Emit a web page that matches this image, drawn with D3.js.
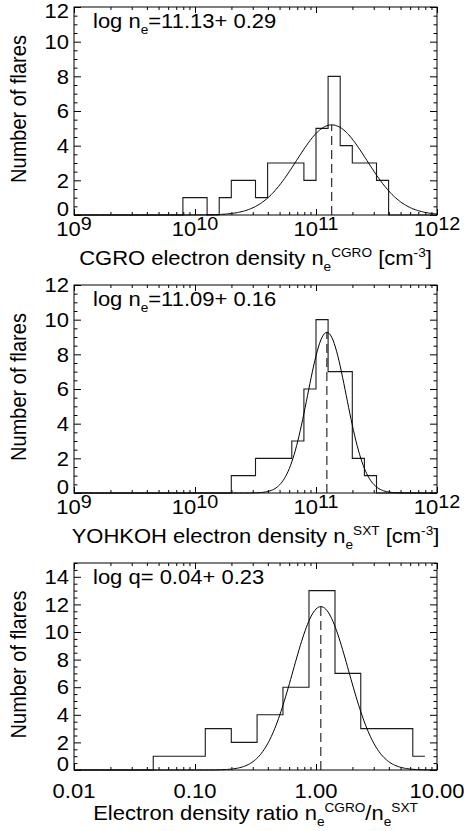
<!DOCTYPE html>
<html><head><meta charset="utf-8">
<script src="https://cdn.jsdelivr.net/npm/d3@7/dist/d3.min.js"></script>
<style>
body{margin:0;background:#fff}
text{font-family:"Liberation Sans",Arial,Helvetica,sans-serif;fill:#000}
</style>
</head><body>
<svg id="chart" width="464" height="831"></svg>
<script>
// ---------- data ----------
// Panel 1: CGRO electron density, log10 bin edges and counts
const cgroBinEdges = [9.9,10.0,10.1,10.2,10.3,10.4,10.5,10.6,10.7,10.8,10.9,11.0,11.1,11.2,11.3,11.4,11.5,11.6];
const cgroCounts   = [1,1,0,1,2,2,1,3,3,3,2,5,8,4,3,3,2];
const cgroFit = {mean: 11.13, sigma: 0.29, peak: 5.2};
const cgroLabel = "11.13+ 0.29";

// Panel 2: YOHKOH SXT electron density
const sxtBinEdges = [10.3,10.4,10.5,10.6,10.7,10.8,10.9,11.0,11.1,11.2,11.3,11.4,11.5];
const sxtCounts   = [1,1,2,2,2,3,6,10,7,7,2,1];
const sxtFit = {mean: 11.09, sigma: 0.16, peak: 9.27};
const sxtLabel = "11.09+ 0.16";

// Panel 3: density ratio q (log10 bin edges)
const ratioBinEdges = [-1.345,-1.13,-0.915,-0.70,-0.487,-0.273,-0.058,0.157,0.37,0.585,0.80,0.90];
const ratioCounts   = [1,1,3,2,4,6,13,7,3,3,1];
const ratioFit = {mean: 0.04, sigma: 0.23, peak: 11.84};
const ratioLabel = " 0.04+ 0.23";

// axes
const densityDecades = [9,10,11,12];
const densityExponents = ["9","10","11","12"];
const ratioDecades = [-2,-1,0,1];
const ratioTickLabels = ["0.01","0.10","1.00","10.00"];
const countTicksA = [0,2,4,6,8,10,12];
const countTicksB = [0,2,4,6,8,10,12,14];

// ---------- drawing ----------
const svg = d3.select("#chart");
svg.append("rect").attr("width",464).attr("height",831).attr("fill","#fff");

const X0 = 74, X1 = 437;
const FONT = 20, SX = 1.1;

function txt(g, x, y, size, anchor) {
  return g.append("text").attr("transform", `translate(${x},${y}) scale(${SX},1)`)
    .attr("font-size", size).attr("text-anchor", anchor || "start");
}
function richText(g, x, y, segs, size, anchor) {
  const t = txt(g, x, y, size, anchor);
  let cur = 0;
  segs.forEach(s => {
    let off = 0, fs = size;
    if (s.m === "sub") { off = 0.28*size; fs = 0.62*size; }
    else if (s.m === "sup") { off = -0.42*size; fs = 0.62*size; }
    else if (s.m === "exp") { off = -0.32*size; fs = 0.9*size; }
    t.append("tspan").attr("dy", off - cur).attr("font-size", fs).text(s.t);
    cur = off;
  });
  return t;
}

function minorLogTicks(lo, hi) {
  const out = [];
  for (let d = lo; d < hi; d++) for (let k = 2; k <= 9; k++) out.push(d + Math.log10(k));
  return out;
}

function panel(cfg) {
  const g = svg.append("g");
  const x = d3.scaleLinear().domain(cfg.xDomain).range([X0, X1]);
  const y = d3.scaleLinear().domain(cfg.yDomain).range([cfg.bottom, cfg.top]);

  // axes: ticks inward on all four sides
  const xMaj = cfg.xMajor, xMin = minorLogTicks(cfg.xDomain[0], cfg.xDomain[1]);
  const yMaj = cfg.yMajor, yMin = d3.range(cfg.yDomain[0], cfg.yDomain[1] + 0.001, 0.5).filter(v => !yMaj.includes(v));
  const mk = (axis, vals, size, tr) => {
    const a = g.append("g").attr("transform", tr)
      .call(axis.tickValues(vals).tickSize(size).tickSizeOuter(0).tickFormat(""));
    a.select(".domain").remove();
    a.selectAll("line").attr("stroke", "#000").attr("stroke-width", 1);
  };
  mk(d3.axisBottom(x), xMaj, -6, `translate(0,${cfg.bottom})`);
  mk(d3.axisBottom(x), xMin, -3, `translate(0,${cfg.bottom})`);
  mk(d3.axisTop(x), xMaj, -6, `translate(0,${cfg.top})`);
  mk(d3.axisTop(x), xMin, -3, `translate(0,${cfg.top})`);
  mk(d3.axisLeft(y), yMaj, -7, `translate(${X0},0)`);
  mk(d3.axisLeft(y), yMin, -3.5, `translate(${X0},0)`);
  mk(d3.axisRight(y), yMaj, -7, `translate(${X1},0)`);
  mk(d3.axisRight(y), yMin, -3.5, `translate(${X1},0)`);
  g.append("rect").attr("x", X0).attr("y", cfg.top).attr("width", X1 - X0)
    .attr("height", cfg.bottom - cfg.top).attr("fill", "none").attr("stroke", "#000").attr("stroke-width", 1);

  // y tick labels (the "0" label sits just above the axis, as in the reference)
  yMaj.forEach(v => {
    const yy = Math.max(y(v) + 0.36*FONT, 18.3) - (v === 0 ? 6 : 0);
    txt(g, X0 - 5, yy, FONT, "end").text(v);
  });
  // x tick labels
  xMaj.forEach((v, i) => cfg.xLabel(g, x(v), i));

  // y title
  g.append("text").attr("transform", `translate(26,${(cfg.top + cfg.bottom)/2 - 2}) scale(${SX},1) rotate(-90)`)
    .attr("text-anchor", "middle").attr("font-size", FONT).text("Number of flares");
  // x title
  richText(g, (X0 + X1)/2, cfg.bottom + 50, cfg.xTitle, FONT, "middle");

  // histogram (step)
  const edges = cfg.edges, counts = cfg.counts;
  const pts = [[cfg.xDomain[0], 0], [edges[0], 0]];
  counts.forEach((c, i) => { pts.push([edges[i], c]); pts.push([edges[i+1], c]); });
  if (cfg.dropEnd) { pts.push([edges[edges.length-1], 0]); pts.push([cfg.xDomain[1], 0]); }
  g.append("path").attr("d", d3.line().x(d => x(d[0])).y(d => y(d[1]))(pts))
    .attr("fill", "none").attr("stroke", "#1a1a1a").attr("stroke-width", 1.1);

  // gaussian fit
  const f = cfg.fit;
  const gx = d3.range(cfg.xDomain[0], cfg.xDomain[1] + 1e-9, 0.01);
  g.append("path").attr("d", d3.line().x(d => x(d)).y(d => y(f.peak * Math.exp(-0.5 * Math.pow((d - f.mean)/f.sigma, 2))))(gx))
    .attr("fill", "none").attr("stroke", "#000").attr("stroke-width", 1);
  // dashed mean line
  g.append("line").attr("x1", x(f.mean)).attr("x2", x(f.mean)).attr("y1", y(0)).attr("y2", y(f.peak))
    .attr("stroke", "#000").attr("stroke-width", 1).attr("stroke-dasharray", "9,5");

  // annotation
  richText(g, 93, cfg.top + 21, cfg.note, FONT, "start");
}

const EXPF = 20;
panel({
  top: 7, bottom: 215, xDomain: [9, 12], yDomain: [0, 12], xMajor: densityDecades, yMajor: countTicksA,
  edges: cgroBinEdges, counts: cgroCounts, fit: cgroFit, dropEnd: true,
  xLabel: (g, px, i) => richText(g, px, 236, [{t:"10", m:"n"}, {t: densityExponents[i], m:"exp"}], EXPF, "middle"),
  xTitle: [{t:"CGRO electron density n", m:"n"}, {t:"e", m:"sub"}, {t:"CGRO", m:"sup"}, {t:" [cm", m:"n"}, {t:"-3", m:"sup"}, {t:"]", m:"n"}],
  note: [{t:"log n", m:"n"}, {t:"e", m:"sub"}, {t:"=" + cgroLabel, m:"n"}]
});
panel({
  top: 285, bottom: 493, xDomain: [9, 12], yDomain: [0, 12], xMajor: densityDecades, yMajor: countTicksA,
  edges: sxtBinEdges, counts: sxtCounts, fit: sxtFit, dropEnd: true,
  xLabel: (g, px, i) => richText(g, px, 514, [{t:"10", m:"n"}, {t: densityExponents[i], m:"exp"}], EXPF, "middle"),
  xTitle: [{t:"YOHKOH electron density n", m:"n"}, {t:"e", m:"sub"}, {t:"SXT", m:"sup"}, {t:" [cm", m:"n"}, {t:"-3", m:"sup"}, {t:"]", m:"n"}],
  note: [{t:"log n", m:"n"}, {t:"e", m:"sub"}, {t:"=" + sxtLabel, m:"n"}]
});
panel({
  top: 563, bottom: 770, xDomain: [-2, 1], yDomain: [0, 15], xMajor: ratioDecades, yMajor: countTicksB,
  edges: ratioBinEdges, counts: ratioCounts, fit: ratioFit, dropEnd: false,
  xLabel: (g, px, i) => txt(g, px, 798, FONT, "middle").text(ratioTickLabels[i]),
  xTitle: [{t:"Electron density ratio  n", m:"n"}, {t:"e", m:"sub"}, {t:"CGRO", m:"sup"}, {t:"/n", m:"n"}, {t:"e", m:"sub"}, {t:"SXT", m:"sup"}],
  note: [{t:"log q=" + ratioLabel, m:"n"}]
});
</script>
</body></html>
